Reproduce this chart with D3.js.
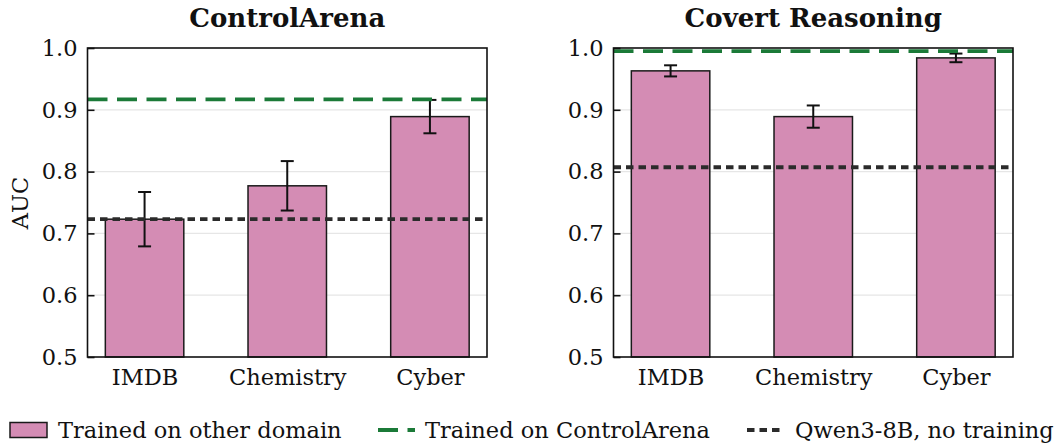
<!DOCTYPE html>
<html><head><meta charset="utf-8">
<script src="https://cdn.jsdelivr.net/npm/d3@7"></script>
<style>body{margin:0;background:#fff}svg{display:block}text{font-family:"DejaVu Serif",serif;fill:#111}</style>
</head><body><svg id="c" width="1058" height="445"></svg>
<script>
const categories = ["IMDB", "Chemistry", "Cyber"];
const panelTitles = ["ControlArena", "Covert Reasoning"];
const caValues = [0.723, 0.777, 0.889];
const caErrors = [0.044, 0.040, 0.027];
const crValues = [0.963, 0.889, 0.984];
const crErrors = [0.009, 0.018, 0.007];
const trainedOnCA = [0.917, 0.995];
const baseline = [0.723, 0.807];
const yTicks = [0.5, 0.6, 0.7, 0.8, 0.9, 1.0];
const legendLabels = ["Trained on other domain", "Trained on ControlArena", "Qwen3-8B, no training"];

(function () {
const svg = d3.select("#c");
const pink = "#d48cb4", green = "#1b7a38", dark = "#2b2b2b";
const fs = 22.5;
const panels = [
  {x0: 87.5, x1: 487, vals: caValues, errs: caErrors},
  {x0: 613.5, x1: 1013, vals: crValues, errs: crErrors}
];
const yTop = 48, yBot = 357;
const y = d3.scaleLinear().domain([0.5, 1.0]).range([yBot, yTop]);

panels.forEach((p, i) => {
  const x = d3.scaleLinear().domain([-0.4, 2.4]).range([p.x0, p.x1]);
  const bw = x(0.55) - x(0);
  const g = svg.append("g");
  g.selectAll(".grid").data(yTicks.slice(1, -1)).join("line")
    .attr("x1", p.x0).attr("x2", p.x1).attr("y1", d => y(d)).attr("y2", d => y(d))
    .attr("stroke", "#e6e6e6").attr("stroke-width", 1.2);
  g.selectAll(".bar").data(p.vals).join("rect")
    .attr("x", (d, j) => x(j) - bw / 2).attr("width", bw)
    .attr("y", d => y(d)).attr("height", d => y(0.5) - y(d))
    .attr("fill", pink).attr("stroke", "#1a1a1a").attr("stroke-width", 1.5);
  p.vals.forEach((v, j) => {
    const e = p.errs[j], cx = x(j);
    g.append("line").attr("x1", cx).attr("x2", cx).attr("y1", y(v + e)).attr("y2", y(v - e))
      .attr("stroke", "#111").attr("stroke-width", 2);
    [v + e, v - e].forEach(t => g.append("line").attr("x1", cx - 6.5).attr("x2", cx + 6.5)
      .attr("y1", y(t)).attr("y2", y(t)).attr("stroke", "#111").attr("stroke-width", 2));
  });
  g.append("line").attr("x1", p.x0).attr("x2", p.x1).attr("y1", y(trainedOnCA[i])).attr("y2", y(trainedOnCA[i]))
    .attr("stroke", green).attr("stroke-width", 3.8).attr("stroke-dasharray", "20,9.5");
  g.append("line").attr("x1", p.x0).attr("x2", p.x1).attr("y1", y(baseline[i])).attr("y2", y(baseline[i]))
    .attr("stroke", dark).attr("stroke-width", 3.8).attr("stroke-dasharray", "7.5,5");
  g.append("rect").attr("x", p.x0).attr("y", yTop).attr("width", p.x1 - p.x0).attr("height", yBot - yTop)
    .attr("fill", "none").attr("stroke", "#111").attr("stroke-width", 1.6);
  const ya = g.append("g").attr("transform", `translate(${p.x0},0)`)
    .call(d3.axisLeft(y).tickValues(yTicks).tickFormat(d3.format(".1f")).tickSizeInner(-7).tickSizeOuter(0).tickPadding(10));
  ya.select(".domain").remove();
  ya.selectAll("line").attr("stroke", "#111").attr("stroke-width", 1.6);
  ya.selectAll("text").attr("font-size", fs).attr("fill", "#111").style("font-family", "DejaVu Serif");
  const xa = g.append("g").attr("transform", `translate(0,${yBot})`)
    .call(d3.axisBottom(x).tickValues([0, 1, 2]).tickFormat(j => categories[j]).tickSize(0).tickPadding(12));
  xa.select(".domain").remove();
  xa.selectAll("text").attr("font-size", fs).attr("fill", "#111").style("font-family", "DejaVu Serif");
  svg.append("text").attr("x", (p.x0 + p.x1) / 2).attr("y", 27).attr("text-anchor", "middle")
    .attr("font-size", 26).attr("font-weight", "bold").text(panelTitles[i]);
});

svg.append("text").attr("transform", "translate(28,203) rotate(-90)").attr("text-anchor", "middle")
  .attr("font-size", fs).text("AUC");

const ly = 430, lb = 438;
const lg = svg.append("g");
lg.append("rect").attr("x", 10).attr("y", ly - 7.5).attr("width", 37).attr("height", 15)
  .attr("fill", pink).attr("stroke", "#1a1a1a").attr("stroke-width", 1.5);
lg.append("text").attr("x", 58).attr("y", lb).attr("font-size", fs).text(legendLabels[0]);
lg.append("line").attr("x1", 378).attr("x2", 415).attr("y1", ly).attr("y2", ly)
  .attr("stroke", green).attr("stroke-width", 3.8).attr("stroke-dasharray", "20,9.5");
lg.append("text").attr("x", 425).attr("y", lb).attr("font-size", fs).text(legendLabels[1]);
lg.append("line").attr("x1", 747).attr("x2", 783).attr("y1", ly).attr("y2", ly)
  .attr("stroke", dark).attr("stroke-width", 3.8).attr("stroke-dasharray", "7.5,5");
lg.append("text").attr("x", 795).attr("y", lb).attr("font-size", fs).text(legendLabels[2]);
})();
</script></body></html>
